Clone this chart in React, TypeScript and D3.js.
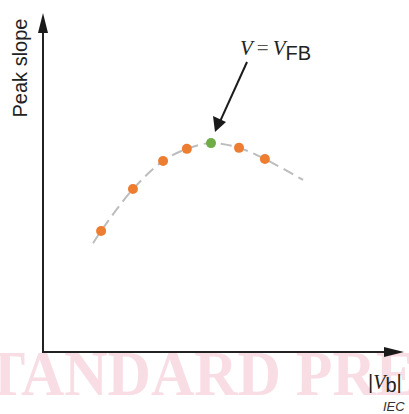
import React from "react";
import * as d3 from "d3";

// measured points (arbitrary units, 0..100 on both axes)
const pointX = [16.6, 25.7, 34.3, 41.1, 48.0, 56.0, 63.4];
const pointY = [35.8, 48.2, 56.5, 60.1, 61.8, 60.4, 57.1];
const pointKind = ["o", "o", "o", "o", "fb", "o", "o"];

// dashed trend curve
const curveX = [14.3, 16.6, 25.7, 34.3, 41.1, 48.0, 56.0, 63.4, 74.3];
const curveY = [32.2, 35.8, 48.2, 56.5, 60.1, 61.8, 60.4, 57.1, 50.9];

const W = 409;
const H = 414;

export default function App() {
  const x = d3.scaleLinear().domain([0, 100]).range([43, 393]);
  const y = d3.scaleLinear().domain([0, 100]).range([352, 14]);

  const line = d3
    .line<number>()
    .x((_, i) => x(curveX[i]))
    .y((d) => y(d))
    .curve(d3.curveCatmullRom);

  const fbX = x(pointX[4]);
  const fbY = y(pointY[4]);

  return (
    <svg
      width={W}
      height={H}
      style={{ position: "absolute", left: 0, top: 0, background: "#fff" }}
    >
      {/* watermark */}
      <text
        transform="translate(-48,395) scale(1,1.06)"
        fontFamily="Liberation Serif"
        fontWeight="bold"
        fontSize={60}
        fill="#f9dde5"
      >
        STANDARD PREVIEW
      </text>

      {/* axes */}
      <line x1={43} y1={353} x2={43} y2={30} stroke="#222" strokeWidth={2} />
      <path d="M43,13 L38,33 L48,33 Z" fill="#1a1a1a" />
      <line x1={42} y1={352} x2={386} y2={352} stroke="#222" strokeWidth={2} />
      <path d="M404,352 L384,347 L384,357 Z" fill="#1a1a1a" />

      {/* curve */}
      <path
        d={line(curveY) || ""}
        fill="none"
        stroke="#bdbdbd"
        strokeWidth={2}
        strokeDasharray="11 6"
      />

      {pointX.map((px, i) => (
        <circle
          key={i}
          cx={x(px)}
          cy={y(pointY[i])}
          r={5}
          fill={pointKind[i] === "fb" ? "#70ad47" : "#ed7d31"}
        />
      ))}

      {/* annotation arrow */}
      <line x1={247} y1={62} x2={fbX + 6} y2={fbY - 15} stroke="#1a1a1a" strokeWidth={2} />
      <path
        d={`M${fbX + 4},${fbY - 11} L${fbX + 2},${fbY - 27} L${fbX + 15},${fbY - 21} Z`}
        fill="#1a1a1a"
      />

      <text x={240} y={55} fontSize={21} fill="#222">
        <tspan fontFamily="Liberation Serif" fontStyle="italic">V</tspan>
        <tspan fontFamily="Liberation Serif" dx={4} fill="#555">=</tspan>
        <tspan fontFamily="Liberation Serif" fontStyle="italic" dx={4}>V</tspan>
        <tspan fontFamily="Liberation Sans" fontSize={20} dy={5}>FB</tspan>
      </text>

      {/* axis labels */}
      <text
        transform="translate(27,68) rotate(-90)"
        textAnchor="middle"
        fontFamily="Liberation Sans"
        fontSize={20}
        fill="#222"
      >
        Peak slope
      </text>

      <text x={368} y={389} fontSize={20} fill="#222">
        <tspan fontFamily="Liberation Sans">|</tspan>
        <tspan fontFamily="Liberation Serif" fontStyle="italic">V</tspan>
        <tspan fontFamily="Liberation Sans" dy={3}>b</tspan>
        <tspan fontFamily="Liberation Sans" dy={-3}>|</tspan>
      </text>

      <text x={383} y={411} fontFamily="Liberation Sans" fontStyle="italic" fontSize={13} fill="#333">
        IEC
      </text>
    </svg>
  );
}
